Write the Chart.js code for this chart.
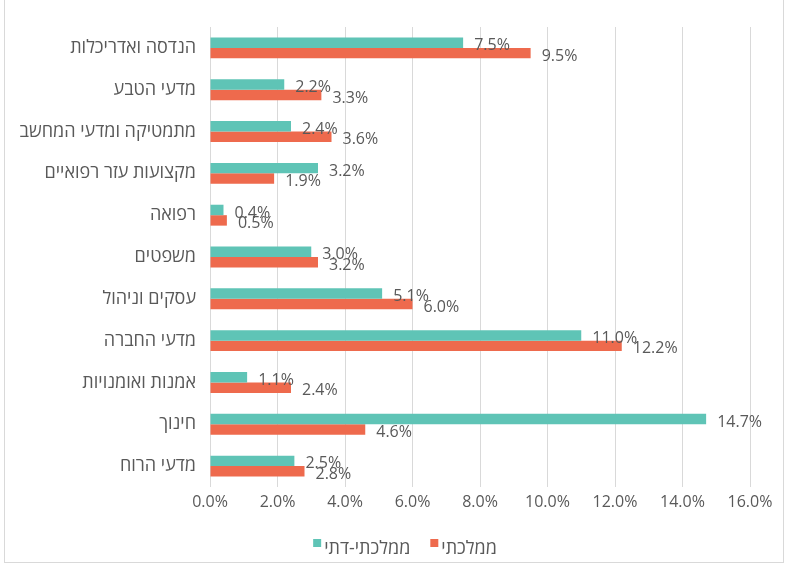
<!DOCTYPE html>
<html>
<head>
<meta charset="utf-8">
<script src="https://cdn.jsdelivr.net/npm/chart.js@4"></script>
<style>
  html, body { margin: 0; padding: 0; background: #fff; }
  #wrap { position: relative; width: 788px; height: 566px; overflow: hidden; }
  #frame { position: absolute; left: 4px; top: -1px; width: 778px; height: 562px; border: 1px solid #d9d9d9; pointer-events: none; }
  canvas { position: absolute; left: 0; top: 0; }
</style>
</head>
<body>
<div id="wrap">
  <canvas id="chart" width="788" height="566"></canvas>
  <div id="frame"></div>
</div>
<script>
// fields of study, top to bottom
const categories = [
  "הנדסה ואדריכלות",
  "מדעי הטבע",
  "מתמטיקה ומדעי המחשב",
  "מקצועות עזר רפואיים",
  "רפואה",
  "משפטים",
  "עסקים וניהול",
  "מדעי החברה",
  "אמנות ואומנויות",
  "חינוך",
  "מדעי הרוח"
];
const religiousState = [7.5, 2.2, 2.4, 3.2, 0.4, 3.0, 5.1, 11.0, 1.1, 14.7, 2.5]; // ממלכתי-דתי
const state = [9.5, 3.3, 3.6, 1.9, 0.5, 3.2, 6.0, 12.2, 2.4, 4.6, 2.8];          // ממלכתי
const xTicks = [0, 2, 4, 6, 8, 10, 12, 14, 16];

const FONT = '"Open Sans", "DejaVu Sans", sans-serif';
const TEXT = '#595959';

// value labels next to each bar end
const valueLabels = {
  id: 'valueLabels',
  afterDatasetsDraw(chart) {
    const ctx = chart.ctx;
    ctx.save();
    ctx.font = '16px ' + FONT;
    ctx.fillStyle = TEXT;
    ctx.textAlign = 'left';
    ctx.textBaseline = 'middle';
    chart.data.datasets.forEach((ds, i) => {
      chart.getDatasetMeta(i).data.forEach((bar, j) => {
        ctx.fillText(ds.data[j].toFixed(1) + '%', bar.x + 11, bar.y + 3);
      });
    });
    ctx.restore();
  }
};

// small legend under the axis, square marker left of each name
const bottomLegend = {
  id: 'bottomLegend',
  afterDraw(chart) {
    const ctx = chart.ctx;
    ctx.save();
    ctx.font = '18px ' + FONT;
    const box = 8, gap = 3, spacing = 20;
    const items = chart.data.datasets.map(ds => ({
      text: ds.label, color: ds.backgroundColor, w: ctx.measureText(ds.label).width
    }));
    let total = items.reduce((s, it) => s + box + gap + it.w, 0) + spacing * (items.length - 1);
    let x = chart.width / 2 + 11 - total / 2;
    const y = 549;
    ctx.textBaseline = 'middle';
    ctx.textAlign = 'left';
    items.forEach(it => {
      ctx.fillStyle = it.color;
      ctx.fillRect(x, y - 10, box, box);
      ctx.fillStyle = TEXT;
      ctx.fillText(it.text, x + box + gap, y);
      x += box + gap + it.w + spacing;
    });
    ctx.restore();
  }
};

new Chart(document.getElementById('chart'), {
  type: 'bar',
  data: {
    labels: categories,
    datasets: [{
      label: 'ממלכתי-דתי',
      data: religiousState,
      backgroundColor: '#5fc4b6'
    }, {
      label: 'ממלכתי',
      data: state,
      backgroundColor: '#ee6a4d'
    }]
  },
  options: {
    indexAxis: 'y',
    responsive: false,
    animation: false,
    categoryPercentage: 0.5,
    barPercentage: 1.0,
    layout: { padding: { left: 0, right: 38, top: 27, bottom: 54 } },
    scales: {
      x: {
        min: 0,
        max: 16,
        afterBuildTicks: s => { s.ticks = xTicks.map(v => ({ value: v })); },
        afterFit: s => { s.height = 25; },
        ticks: {
          callback: v => v.toFixed(1) + '%',
          color: TEXT,
          font: { family: FONT, size: 16 },
          padding: 6
        },
        grid: { color: '#d9d9d9', drawTicks: false },
        border: { display: false }
      },
      y: {
        afterFit: s => { s.width = 210; },
        ticks: {
          color: TEXT,
          font: { family: FONT, size: 18 },
          padding: 14
        },
        grid: { display: false, drawTicks: false },
        border: { display: false }
      }
    },
    plugins: {
      legend: { display: false },
      tooltip: { enabled: false }
    }
  },
  plugins: [valueLabels, bottomLegend]
});
</script>
</body>
</html>
